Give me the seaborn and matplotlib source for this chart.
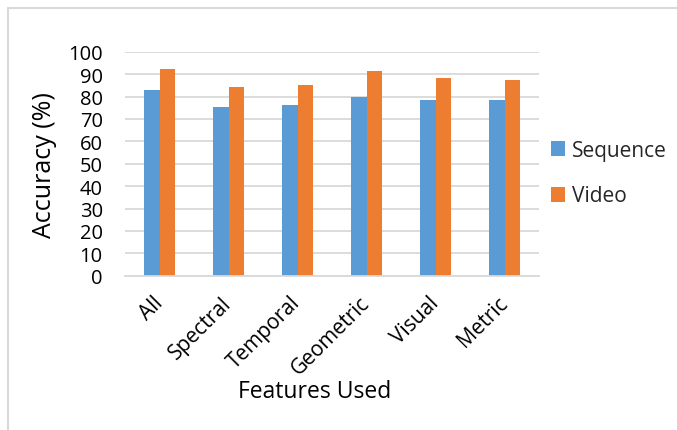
import matplotlib
matplotlib.use("Agg")
import matplotlib.pyplot as plt
import seaborn as sns
import pandas as pd
from matplotlib.patches import Rectangle

categories = ["All", "Spectral", "Temporal", "Geometric", "Visual", "Metric"]
sequence = [82.7, 75.2, 76.1, 79.7, 78.3, 78.3]
video = [92.2, 84.3, 85.2, 91.6, 88.2, 87.5]
series_names = ["Sequence", "Video"]
colors = ["#5B9BD5", "#ED7D31"]

df = pd.DataFrame({
    "Features Used": categories * 2,
    "Accuracy": sequence + video,
    "Series": [series_names[0]] * len(categories) + [series_names[1]] * len(categories),
})

sns.set_theme(style="white")
plt.rcParams["font.family"] = ["Open Sans", "DejaVu Sans"]

W, H = 677, 431
fig = plt.figure(figsize=(W / 100, H / 100), dpi=100)
ax = fig.add_axes([125 / W, 1 - 276.7 / H, (539 - 125) / W, (276.7 - 52.7) / H])

sns.barplot(data=df, x="Features Used", y="Accuracy", hue="Series",
            palette=colors, width=0.46, gap=0, ax=ax, legend=True,
            saturation=1, edgecolor="none")

ax.set_ylim(0, 100)
ax.set_xlim(-0.5, len(categories) - 0.5)
ax.set_yticks(range(0, 101, 10))
ax.yaxis.grid(True, color="#d9d9d9", lw=1.3)
ax.set_axisbelow(True)
for s in ["top", "right", "left"]:
    ax.spines[s].set_visible(False)
ax.spines["bottom"].set_color("#d9d9d9")
ax.spines["bottom"].set_linewidth(1.3)

ax.tick_params(axis="y", length=0, pad=16, labelsize=14.5, labelcolor="black")
ax.set_xticks(range(len(categories)))
ax.set_xticklabels(categories, rotation=45, ha="right", va="center", rotation_mode="anchor")
ax.tick_params(axis="x", which="major", length=0, pad=17, labelsize=15, labelcolor="black")
ax.set_xticks([i - 0.5 for i in range(len(categories) + 1)], minor=True)
ax.tick_params(axis="x", which="minor", length=6, width=1.3, color="#d9d9d9")

ax.set_xlabel("Features Used", fontsize=16.5, color="black")
ax.xaxis.set_label_coords((315 - 125) / (539 - 125), -(392 - 276.7) / (276.7 - 52.7))
ax.xaxis.label.set_va("center")
ax.set_ylabel("Accuracy (%)", fontsize=18, color="black")
ax.yaxis.set_label_coords(-(125 - 45) / (539 - 125), 0.5)
ax.yaxis.label.set_va("center")

handles, labels = ax.get_legend_handles_labels()
ax.legend_.remove()
fig.legend(handles, labels, loc="center left", bbox_to_anchor=(532 / W, 1 - 174 / H),
           frameon=False, fontsize=15, handlelength=0.7, handleheight=0.7,
           handletextpad=0.3, labelspacing=1.2)

fig.patches.append(Rectangle((8 / W, -0.1), 1.2, 1.1 - 8.5 / H, transform=fig.transFigure,
                             fill=False, ec="#d9d9d9", lw=1.5))

fig.savefig("out.png", dpi=100)
